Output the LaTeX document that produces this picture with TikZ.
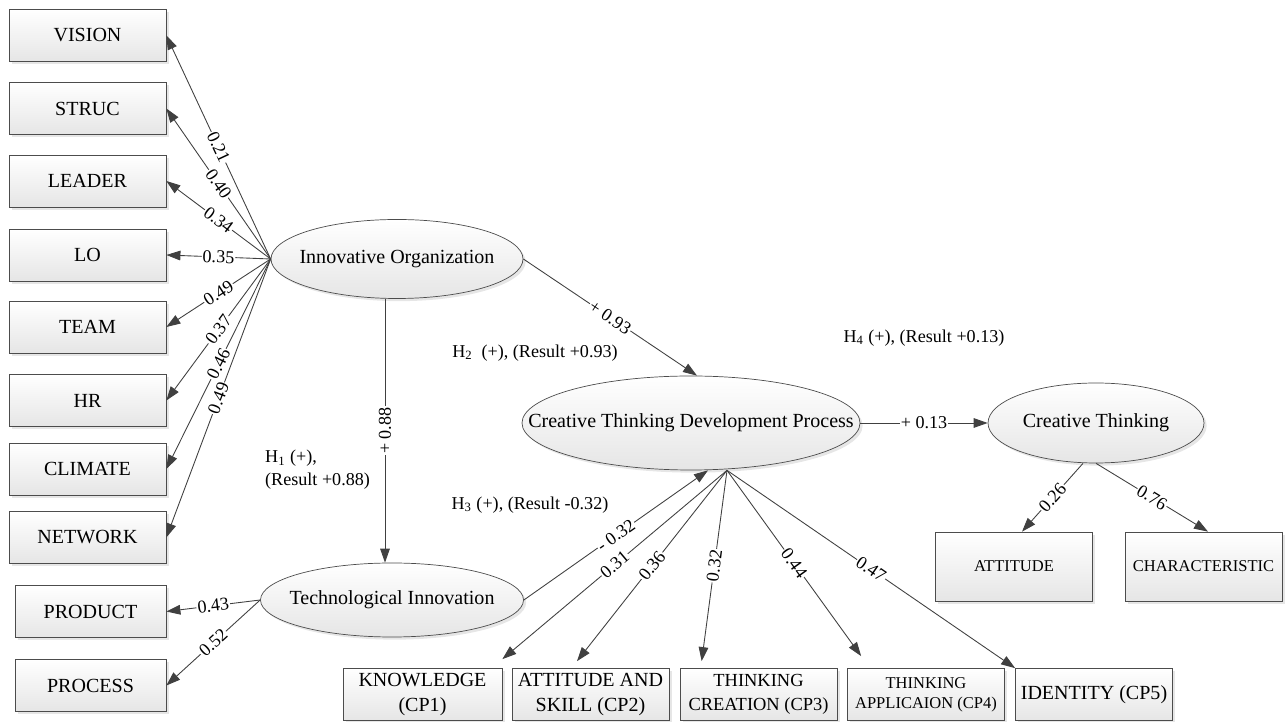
\documentclass[tikz,border=0pt]{standalone}
\usepackage{fontspec}
\setmainfont{Liberation Serif}
\usetikzlibrary{arrows.meta,shapes.geometric,shadows}

\begin{document}
\begin{tikzpicture}[font=\fontsize{11.4}{13.7}\selectfont,
	    box/.style={draw=black!70, top color=white, bottom color=black!10, drop shadow={opacity=.2, shadow xshift=1.5pt, shadow yshift=-1.5pt}, minimum width=3.14cm, minimum height=1.04cm, inner sep=1pt, align=center},
	    latent/.style={ellipse, draw=black!70, top color=white, bottom color=black!10, drop shadow={opacity=.2, shadow xshift=1.5pt, shadow yshift=-1.5pt}, inner sep=0pt},
	    path/.style={draw=black!75, line width=.5pt, -{Triangle[length=8pt, width=5.5pt]}},
	    num/.style={fill=white, inner sep=.6pt, font=\fontsize{10.3}{12}\selectfont},
	    wgt/.style={num, sloped},
	    hyp/.style={font=\fontsize{10.3}{13}\selectfont, align=left}]
	    \useasboundingbox (0,0) rectangle (25.76,14.44);

	    \node[box] (vision) at (1.75,13.73) {VISION};
	    \node[box] (struc) at (1.75,12.27) {STRUC};
	    \node[box] (leader) at (1.75,10.82) {LEADER};
	    \node[box] (lo) at (1.75,9.34) {LO};
	    \node[box] (team) at (1.75,7.90) {TEAM};
	    \node[box] (hr) at (1.75,6.43) {HR};
	    \node[box] (climate) at (1.75,5.06) {CLIMATE};
	    \node[box] (network) at (1.75,3.69) {NETWORK};
	    \node[box, minimum width=3.02cm] (product) at (1.81,2.21) {PRODUCT};
	    \node[box, minimum width=3.02cm] (process) at (1.81,0.73) {PROCESS};

	    \node[latent, minimum width=5.04cm, minimum height=1.58cm, label=center:Innovative Organization] (io) at (7.94,9.26) {};
	    \node[latent, minimum width=5.26cm, minimum height=1.48cm, label=center:Technological Innovation] (ti) at (7.84,2.44) {};
	    \node[latent, minimum width=6.76cm, minimum height=1.88cm, label=center:Creative Thinking Development Process] (ctdp) at (13.82,5.98) {};
	    \node[latent, minimum width=4.32cm, minimum height=1.60cm, label=center:Creative Thinking] (ct) at (21.92,5.98) {};

	    \node[box, minimum height=1.38cm, font=\fontsize{9.4}{11}\selectfont] (att) at (20.28,3.11) {ATTITUDE};
	    \node[box, minimum height=1.38cm, font=\fontsize{9.4}{11}\selectfont] (char) at (24.07,3.11) {CHARACTERISTIC};

	    \node[box, minimum width=3.18cm] (cp1) at (8.45,0.55) {KNOWLEDGE\\(CP1)};
	    \node[box] (cp2) at (11.81,0.55) {ATTITUDE AND\\SKILL (CP2)};
	    \node[box, font=\fontsize{10.5}{13.7}\selectfont] (cp3) at (15.17,0.55) {THINKING\\CREATION (CP3)};
	    \node[box, font=\fontsize{9.4}{11.4}\selectfont] (cp4) at (18.52,0.55) {THINKING\\APPLICAION (CP4)};
	    \node[box] (cp5) at (21.88,0.55) {IDENTITY (CP5)};

	    \node[hyp, anchor=west] (h1) at (5.18,5.04) {H\textsubscript{1} (+),\\(Result +0.88)};
	    \node[hyp] (h2) at (10.70,7.38) {H\textsubscript{2}\ \ (+), (Result +0.93)};
	    \node[hyp] (h3) at (10.60,4.34) {H\textsubscript{3} (+), (Result -0.32)};
	    \node[hyp] (h4) at (18.48,7.68) {H\textsubscript{4} (+), (Result +0.13)};

	    \draw[path] (io.west) -- node[wgt] {0.21} (vision.east);
	    \draw[path] (io.west) -- node[wgt] {0.40} (struc.east);
	    \draw[path] (io.west) -- node[wgt] {0.34} (leader.east);
	    \draw[path] (io.west) -- node[wgt] {0.35} (lo.east);
	    \draw[path] (io.west) -- node[wgt] {0.49} (team.east);
	    \draw[path] (io.west) -- node[wgt] {0.37} (hr.east);
	    \draw[path] (io.west) -- node[wgt] {0.46} (climate.east);
	    \draw[path] (io.west) -- node[wgt] {0.49} (network.east);

	    \draw[path] (ti.west) -- node[wgt] {0.43} (product.east);
	    \draw[path] (ti.west) -- node[wgt] {0.52} (process.east);

	    \draw[path] ([xshift=-0.24cm]io.south) -- node[num, rotate=90] {+ 0.88} ([xshift=-0.14cm]ti.north);
	    \draw[path] (io.east) -- node[wgt] {+ 0.93} ([xshift=0.12cm]ctdp.north);
	    \draw[path] (ti.east) -- node[wgt] {- 0.32} ([xshift=0.34cm]ctdp.south);
	    \draw[path] (ctdp.east) -- node[num] {+ 0.13} (ct.west);

	    \coordinate (ctdpb) at ([xshift=0.72cm]ctdp.south);
	    \draw[path] (ctdpb) -- node[wgt] {0.31} ([yshift=0.18cm]cp1.north east);
	    \draw[path] (ctdpb) -- node[wgt] {0.36} ([xshift=-0.27cm, yshift=0.14cm]cp2.north);
	    \draw[path] (ctdpb) -- node[wgt] {0.32} ([xshift=0.44cm, yshift=0.14cm]cp3.north west);
	    \draw[path] (ctdpb) -- node[wgt] {0.44} ([xshift=0.28cm, yshift=0.24cm]cp4.north west);
	    \draw[path] (ctdpb) -- node[wgt] {0.47} (cp5.north west);

	    \draw[path] ([xshift=-0.26cm]ct.south) -- node[wgt] {0.26} ([xshift=0.16cm]att.north);
	    \draw[path] (ct.south) -- node[wgt] {0.76} ([xshift=0.09cm]char.north);
	  \end{tikzpicture}
\end{document}
